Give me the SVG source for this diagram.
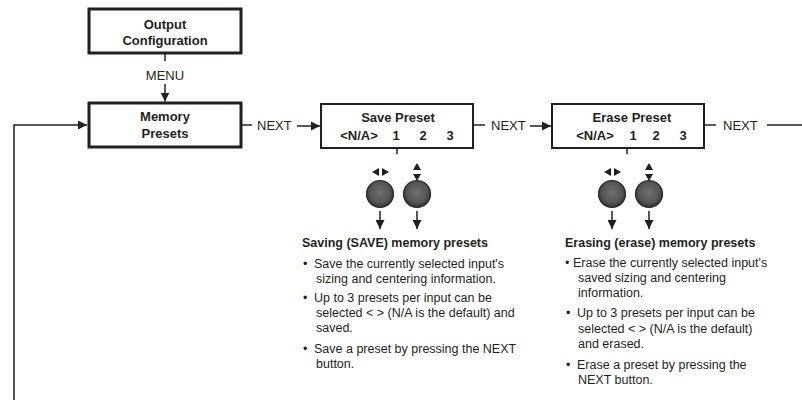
<svg xmlns="http://www.w3.org/2000/svg" width="802" height="400" viewBox="0 0 802 400">
<defs>
<style>
.t{font-family:"Liberation Sans",Arial,sans-serif;fill:#231f20}
.bt{font-family:"Liberation Sans",Arial,sans-serif;font-weight:bold;fill:#231f20}
.thick{fill:#fff;stroke:#231f20;stroke-width:3}
.thin{fill:#fff;stroke:#231f20;stroke-width:2}
.ln{fill:none;stroke:#231f20;stroke-width:1.5}
.knob{fill:url(#kg);stroke:#2a2a2a;stroke-width:1.2}
.ic{fill:#231f20}
</style>
<radialGradient id="kg" cx="0.5" cy="0.45" r="0.55">
<stop offset="0" stop-color="#6e6e6e"/>
<stop offset="0.7" stop-color="#555"/>
<stop offset="1" stop-color="#2e2e2e"/>
</radialGradient>
<marker id="ah" viewBox="0 0 10 10" refX="10" refY="5" markerWidth="7" markerHeight="7" markerUnits="userSpaceOnUse" orient="auto">
<path d="M0,0 L10,5 L0,10 z" fill="#231f20"/>
</marker>
<marker id="ahb" viewBox="0 0 10 10" refX="10" refY="5" markerWidth="9" markerHeight="9" markerUnits="userSpaceOnUse" orient="auto">
<path d="M0,0 L10,5 L0,10 z" fill="#231f20"/>
</marker>
</defs>
<rect width="802" height="400" fill="#fff"/>

<g id="output-configuration">
<rect class="thick" x="89" y="9" width="152" height="44"/>
<text class="bt" x="165" y="29" font-size="13" text-anchor="middle">Output</text>
<text class="bt" x="165" y="45" font-size="13" text-anchor="middle">Configuration</text>
</g>

<g id="memory-presets">
<rect class="thick" x="89" y="103" width="152" height="44"/>
<text class="bt" x="165" y="121" font-size="13" text-anchor="middle">Memory</text>
<text class="bt" x="165" y="138" font-size="13" text-anchor="middle">Presets</text>
</g>

<g id="save-preset">
<rect class="thin" x="321" y="104" width="152" height="44"/>
<text class="bt" x="398" y="122" font-size="13" text-anchor="middle">Save Preset</text>
<text class="bt" x="359" y="140" font-size="13" text-anchor="middle">&lt;N/A&gt;</text>
<text class="bt" x="396" y="140" font-size="13" text-anchor="middle">1</text>
<text class="bt" x="423" y="140" font-size="13" text-anchor="middle">2</text>
<text class="bt" x="450" y="140" font-size="13" text-anchor="middle">3</text>
</g>

<g id="erase-preset">
<rect class="thin" x="552" y="104" width="152" height="44"/>
<text class="bt" x="632" y="122" font-size="13" text-anchor="middle">Erase Preset</text>
<text class="bt" x="595" y="140" font-size="13" text-anchor="middle">&lt;N/A&gt;</text>
<text class="bt" x="633" y="140" font-size="13" text-anchor="middle">1</text>
<text class="bt" x="656" y="140" font-size="13" text-anchor="middle">2</text>
<text class="bt" x="683" y="140" font-size="13" text-anchor="middle">3</text>
</g>

<g id="save-controls">
<path class="ic" d="M372,172 L379,168 L379,176 z M389,172 L382,168 L382,176 z"/>
<path class="ic" d="M417,163 L421,170 L413,170 z M417,181 L421,174 L413,174 z"/>
<circle class="knob" cx="380" cy="194" r="13.5"/>
<circle class="knob" cx="417" cy="194" r="13.5"/>
</g>

<g id="erase-controls">
<path class="ic" d="M604,172 L611,168 L611,176 z M621,172 L614,168 L614,176 z"/>
<path class="ic" d="M649,163 L653,170 L645,170 z M649,181 L653,174 L645,174 z"/>
<circle class="knob" cx="612" cy="194" r="13.5"/>
<circle class="knob" cx="649" cy="194" r="13.5"/>
</g>

<g id="connectors">
<line class="ln" x1="165" y1="53" x2="165" y2="61"/>
<line class="ln" x1="165" y1="84" x2="165" y2="101.5" marker-end="url(#ahb)"/>
<line class="ln" x1="241" y1="125" x2="252" y2="125"/>
<line class="ln" x1="297" y1="126" x2="320" y2="126" marker-end="url(#ahb)"/>
<line class="ln" x1="473" y1="125" x2="485" y2="125"/>
<line class="ln" x1="530" y1="126" x2="551" y2="126" marker-end="url(#ahb)"/>
<line class="ln" x1="704" y1="125" x2="716" y2="125"/>
<line class="ln" x1="767" y1="125" x2="802" y2="125"/>
<polyline class="ln" points="14,400 14,125 87,125" marker-end="url(#ahb)"/>
<line class="ln" x1="397" y1="148" x2="397" y2="154"/>
<line class="ln" x1="627" y1="148" x2="627" y2="154"/>
<line class="ln" x1="380" y1="211" x2="380" y2="229" marker-end="url(#ahb)"/>
<line class="ln" x1="417" y1="211" x2="417" y2="229" marker-end="url(#ahb)"/>
<line class="ln" x1="612" y1="211" x2="612" y2="229" marker-end="url(#ahb)"/>
<line class="ln" x1="649" y1="211" x2="649" y2="229" marker-end="url(#ahb)"/>
<text class="t" x="165" y="80" font-size="13" text-anchor="middle">MENU</text>
<text class="t" x="257" y="130" font-size="13">NEXT</text>
<text class="t" x="491" y="130" font-size="13">NEXT</text>
<text class="t" x="723" y="130" font-size="13">NEXT</text>
</g>

<g id="save-notes" font-size="12.5">
<text class="bt" x="302" y="247" font-size="12.5">Saving (SAVE) memory presets</text>
<text class="t" x="303" y="268">•</text>
<text class="t" x="314" y="268">Save the currently selected input's</text>
<text class="t" x="316" y="283">sizing and centering information.</text>
<text class="t" x="303" y="302">•</text>
<text class="t" x="314" y="302">Up to 3 presets per input can be</text>
<text class="t" x="316" y="317">selected &lt; &gt; (N/A is the default) and</text>
<text class="t" x="316" y="332">saved.</text>
<text class="t" x="303" y="353">•</text>
<text class="t" x="314" y="353">Save a preset by pressing the NEXT</text>
<text class="t" x="316" y="368">button.</text>
</g>

<g id="erase-notes" font-size="12.5">
<text class="bt" x="565" y="247" font-size="12.5">Erasing (erase) memory presets</text>
<text class="t" x="565" y="267">•</text>
<text class="t" x="573" y="267">Erase the currently selected input's</text>
<text class="t" x="578" y="282">saved sizing and centering</text>
<text class="t" x="578" y="297">information.</text>
<text class="t" x="566" y="317">•</text>
<text class="t" x="577" y="317">Up to 3 presets per input can be</text>
<text class="t" x="578" y="333">selected &lt; &gt; (N/A is the default)</text>
<text class="t" x="578" y="348">and erased.</text>
<text class="t" x="566" y="369">•</text>
<text class="t" x="577" y="369">Erase a preset by pressing the</text>
<text class="t" x="578" y="384">NEXT button.</text>
</g>
</svg>
